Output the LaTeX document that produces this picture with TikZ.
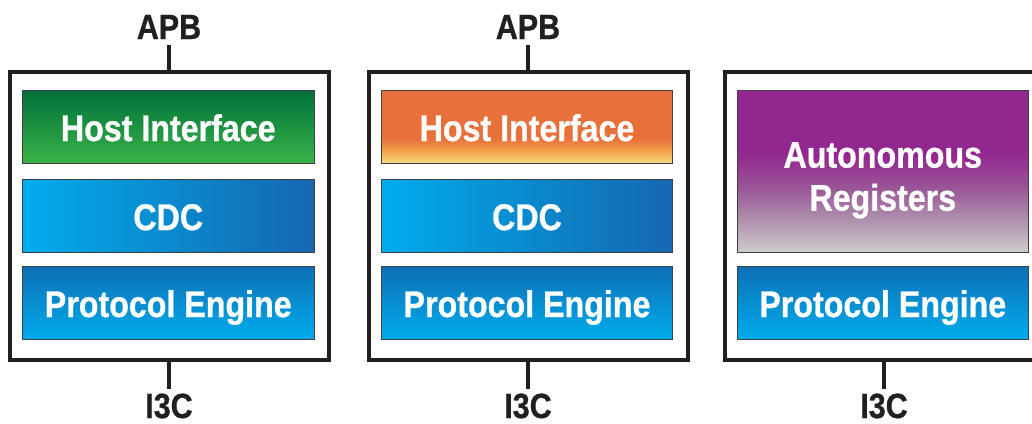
\documentclass[tikz,border=0pt]{standalone}
\usepackage{fontspec}
\newfontfamily\dfont[FakeStretch=0.87, BoldFeatures={FakeBold=0.8}]{Liberation Sans}
\definecolor{ink}{HTML}{231F20}
\definecolor{grtop}{HTML}{006F3A}
\definecolor{grbot}{HTML}{3BB44A}
\definecolor{cyanb}{HTML}{00ACEC}
\definecolor{darkb}{HTML}{1567B0}
\definecolor{petop}{HTML}{0D6FB6}
\definecolor{orng}{HTML}{E8703A}
\definecolor{ormid}{HTML}{F2A24A}
\definecolor{oryel}{HTML}{F8D880}
\definecolor{purp}{HTML}{92278F}
\definecolor{purmid}{HTML}{9A5597}
\definecolor{purlt}{HTML}{AF90AD}
\definecolor{purgr}{HTML}{CECCCE}
\pgfdeclareverticalshading{orangesh}{100bp}{color(0bp)=(oryel); color(25bp)=(oryel); color(33bp)=(ormid); color(42bp)=(orng); color(100bp)=(orng)}
\pgfdeclareverticalshading{purplesh}{100bp}{color(0bp)=(purgr); color(25bp)=(purgr); color(35bp)=(purlt); color(45bp)=(purmid); color(55bp)=(purp); color(100bp)=(purp)}
\begin{document}
\begin{tikzpicture}[x=1pt,y=-1pt,
  outerbox/.style={draw=ink, line width=4pt, fill=white, minimum width=319pt, minimum height=288pt, inner sep=0pt, outer sep=0pt},
  blk/.style={draw=black!75, line width=0.8pt, minimum width=291.5pt, minimum height=73pt, inner sep=0pt,
    text=white, font=\dfont\bfseries\fontsize{37}{43}\selectfont, text height=29pt, text depth=0pt},
  lbl/.style={inner sep=0pt, outer sep=0pt, text=ink, font=\dfont\bfseries\fontsize{35}{40}\selectfont, anchor=base},
  stem/.style={draw=ink, line width=4pt},
  greensh/.style={top color=grtop, bottom color=grbot},
  cdcsh/.style={left color=cyanb, right color=darkb},
  pesh/.style={top color=petop, bottom color=cyanb}]
\useasboundingbox (0,0) rectangle (1032,423);
\clip (0,0) rectangle (1032,423);
% outer boxes
\node[outerbox] (o1) at (169,216) {};
\node[outerbox] (o2) at (528,216) {};
\node[outerbox] (o3) at (884,216) {};
% labels
\node[lbl] (apb1) at (169,39) {APB};
\node[lbl] (apb2) at (528,39) {APB};
\node[lbl] (i3c1) at (169,418) {I3C};
\node[lbl] (i3c2) at (528,418) {I3C};
\node[lbl] (i3c3) at (884,418) {I3C};
% stems
\draw[stem, shorten <=6pt] (apb1.south) -- (o1.north);
\draw[stem, shorten <=6pt] (apb2.south) -- (o2.north);
\draw[stem, shorten >=5pt] (o1.south) -- (i3c1.north);
\draw[stem, shorten >=5pt] (o2.south) -- (i3c2.north);
\draw[stem, shorten >=5pt] (o3.south) -- (i3c3.north);
% column 1
\node[blk, greensh] (hi1) at (168.25,126.5) {Host Interface};
\node[blk, cdcsh] (cdc1) at (168.25,215.5) {CDC};
\node[blk, pesh] (pe1) at (168.25,302.5) {Protocol Engine};
% column 2
\node[blk, shading=orangesh] (hi2) at (527,126.5) {Host Interface};
\node[blk, cdcsh] (cdc2) at (527,215.5) {CDC};
\node[blk, pesh] (pe2) at (527,302.5) {Protocol Engine};
% column 3
\node[blk, shading=purplesh, minimum height=162pt] (ar3) at (882.75,171) {};
\node[inner sep=0pt, text=white, align=center, font=\dfont\bfseries\fontsize{37}{43}\selectfont] (art3) at (882.75,180.3) {Autonomous\\Registers};
\node[blk, pesh] (pe3) at (882.75,302.5) {Protocol Engine};
\end{tikzpicture}
\end{document}
